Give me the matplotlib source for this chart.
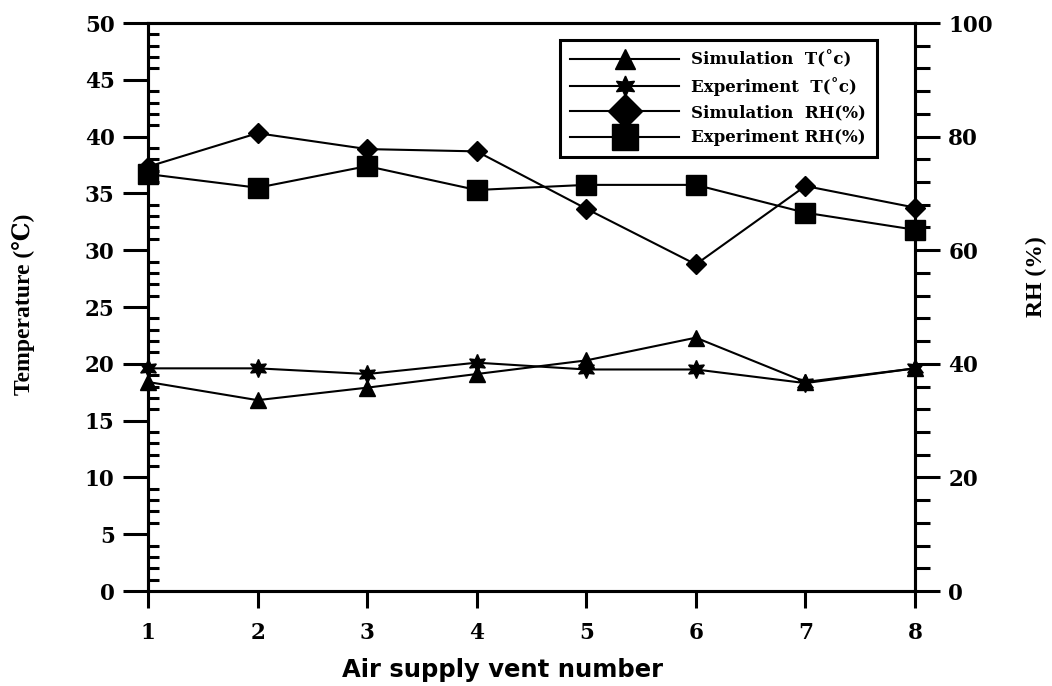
import numpy as np
import matplotlib.pyplot as plt
from matplotlib.ticker import MultipleLocator

# Datos
vents = [1, 2, 3, 4, 5, 6, 7, 8]
sim_T = [18.4, 16.8, 17.9, 19.1, 20.3, 22.3, 18.4, 19.6]
exp_T = [19.6, 19.6, 19.1, 20.1, 19.5, 19.5, 18.3, 19.6]
sim_RH = [74.7, 80.6, 77.8, 77.4, 67.3, 57.5, 71.3, 67.5]
exp_RH = [73.4, 71.0, 74.8, 70.6, 71.5, 71.5, 66.6, 63.6]

labels = ['Simulation  T(\u02dac)', 'Experiment  T(\u02dac)',
          'Simulation  RH(%)', 'Experiment RH(%)']

COL = 'black'
W, H = 1052, 686

fig = plt.figure(figsize=(W / 100, H / 100), dpi=100, facecolor='white')
ax = fig.add_axes([148 / W, 1 - 591 / H, (915 - 148) / W, (591 - 23) / H])
ax2 = ax.twinx()

lw = 1.5
l1, = ax.plot(vents, sim_T, color=COL, lw=lw, marker='^', markersize=12, clip_on=False)
l2, = ax.plot(vents, exp_T, color=COL, lw=lw, marker=(6, 1, 0), markersize=13, clip_on=False)
l3, = ax2.plot(vents, sim_RH, color=COL, lw=lw, marker='D', markersize=10, clip_on=False)
l4, = ax2.plot(vents, exp_RH, color=COL, lw=lw, marker='s', markersize=14, clip_on=False)

ax.set_xlim(1, 8)
ax.set_ylim(0, 50)
ax2.set_ylim(0, 100)

ax.set_xticks(vents)
ax.yaxis.set_major_locator(MultipleLocator(5))
ax.yaxis.set_minor_locator(MultipleLocator(1))
ax2.yaxis.set_major_locator(MultipleLocator(20))
ax2.yaxis.set_minor_locator(MultipleLocator(4))

for a in (ax, ax2):
    for sp in a.spines.values():
        sp.set_linewidth(2.2)
        sp.set_color(COL)

ax.tick_params(axis='x', which='major', direction='out', length=12, width=2.2, pad=10)
ax.tick_params(axis='y', which='major', direction='out', length=18, width=2.2, pad=6)
ax.tick_params(axis='y', which='minor', direction='in', length=8, width=2.2)
ax2.tick_params(axis='y', which='major', direction='out', length=18, width=2.2, pad=6)
ax2.tick_params(axis='y', which='minor', direction='out', length=11, width=2.2)

for lab in ax.get_xticklabels() + ax.get_yticklabels() + ax2.get_yticklabels():
    lab.set_fontfamily(['DejaVu Serif'])
    lab.set_fontweight('bold')
    lab.set_fontsize(15.5)

# Títulos de ejes
fig.text(24 / W, 1 - 304 / H, 'Temperature (\u2103)',
         family=['Liberation Serif', 'DejaVu Serif'], fontweight='bold',
         fontsize=17, rotation=90, ha='center', va='center')
fig.text(1036 / W, 1 - 277 / H, 'RH (%)',
         family=['Liberation Serif', 'DejaVu Serif'], fontweight='bold',
         fontsize=17, rotation=90, ha='center', va='center')
fig.text(502 / W, 1 - 670 / H, 'Air supply vent number',
         family=['DejaVu Sans'], fontweight='bold', fontsize=17.5,
         ha='center', va='center')

leg = ax2.legend([l1, l2, l3, l4], labels, loc='upper right',
                 bbox_to_anchor=((877 - 148) / 767, (591 - 40) / 568),
                 borderaxespad=0, handlelength=6.5, handletextpad=0.75,
                 prop=dict(family='DejaVu Serif', weight='bold', size=12),
                 fancybox=False, framealpha=1, edgecolor=COL,
                 borderpad=0.65, labelspacing=0.5)
leg.get_frame().set_linewidth(2.2)
for h, ms in zip(leg.legend_handles, [14, 15, 17, 19]):
    h.set_markersize(ms)

plt.savefig('out.png', dpi=100, facecolor='white')
